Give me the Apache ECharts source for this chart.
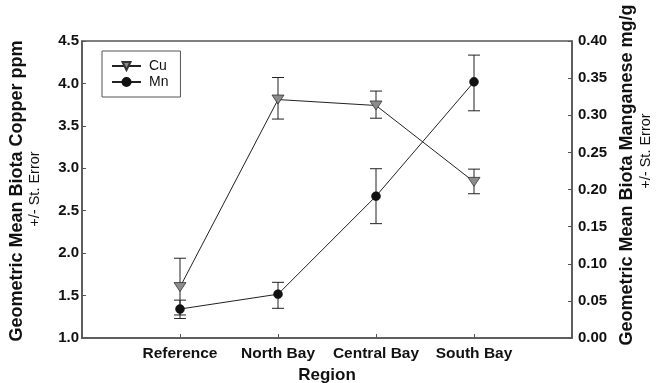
<!DOCTYPE html>
<html>
<head>
<meta charset="utf-8">
<script src="https://cdn.jsdelivr.net/npm/echarts@6/dist/echarts.min.js"></script>
<style>
  html, body { margin: 0; padding: 0; background: #fff; }
  #chart { width: 657px; height: 383px; }
</style>
</head>
<body>
<div id="chart"></div>
<script>
// Sampling regions along the bay
const regions = ['Reference', 'North Bay', 'Central Bay', 'South Bay'];

// Copper (ppm): geometric mean with upper / lower standard-error bounds
const cuMean  = [1.60, 3.81, 3.74, 2.84];
const cuUpper = [1.94, 4.07, 3.91, 2.99];
const cuLower = [1.23, 3.58, 3.59, 2.70];

// Manganese (mg/g): geometric mean with upper / lower standard-error bounds
const mnMean  = [0.039, 0.059, 0.191, 0.345];
const mnUpper = [0.051, 0.075, 0.228, 0.381];
const mnLower = [0.031, 0.040, 0.154, 0.306];

const FONT = 'Liberation Sans, Arial, Helvetica, sans-serif';
const AXIS_COLOR = '#555';

function points(values) {
  return values.map((v, i) => [i + 1, v]);
}

function errorBars(lower, upper) {
  return lower.map((lo, i) => [i + 1, lo, upper[i]]);
}

function renderErrorBar(params, api) {
  const x = api.value(0);
  const pLo = api.coord([x, api.value(1)]);
  const pHi = api.coord([x, api.value(2)]);
  const half = 6;
  const style = { stroke: '#222', lineWidth: 1 };
  return {
    type: 'group',
    children: [
      { type: 'line', shape: { x1: pLo[0], y1: pLo[1], x2: pHi[0], y2: pHi[1] }, style },
      { type: 'line', shape: { x1: pLo[0] - half, y1: pLo[1], x2: pLo[0] + half, y2: pLo[1] }, style },
      { type: 'line', shape: { x1: pHi[0] - half, y1: pHi[1], x2: pHi[0] + half, y2: pHi[1] }, style }
    ]
  };
}

const chart = echarts.init(document.getElementById('chart'), null, { renderer: 'canvas' });

const downTriangle = 'path://M0,0 L12,0 L6,9 Z';

chart.setOption({
  animation: false,
  backgroundColor: '#fff',
  grid: {
    left: 82, right: 85, top: 41, bottom: 45,
    outerBoundsMode: 'none',
    containLabel: false,
    show: true, borderColor: AXIS_COLOR, borderWidth: 1.5, backgroundColor: 'transparent'
  },
  legend: {
    orient: 'vertical',
    left: 102, top: 51,
    padding: [7, 12, 7, 9],
    itemGap: 0,
    itemWidth: 29,
    itemHeight: 10,
    borderColor: AXIS_COLOR,
    borderWidth: 1,
    textStyle: { fontFamily: FONT, fontSize: 14, color: '#111', padding: [0, 0, 0, 3], lineHeight: 16 },
    data: ['Cu', 'Mn']
  },
  xAxis: {
    type: 'value',
    min: 0, max: 5, interval: 1,
    name: 'Region',
    nameLocation: 'middle',
    nameGap: 29,
    nameTextStyle: { fontFamily: FONT, fontSize: 17, fontWeight: 'bold', color: '#111' },
    axisLine: { show: true, lineStyle: { color: AXIS_COLOR, width: 1.5 } },
    axisTick: { show: true, inside: true, length: 4, lineStyle: { color: AXIS_COLOR } },
    axisLabel: {
      margin: 8,
      fontFamily: FONT, fontSize: 15.5, fontWeight: 'bold', color: '#111',
      formatter: v => regions[v - 1] || ''
    },
    splitLine: { show: false }
  },
  yAxis: [
    {
      type: 'value',
      position: 'left',
      min: 1.0, max: 4.5, interval: 0.5,
      axisLine: { show: true, lineStyle: { color: AXIS_COLOR, width: 1.5 } },
      axisTick: { show: true, inside: true, length: 4, lineStyle: { color: AXIS_COLOR } },
      axisLabel: {
        margin: 3,
        fontFamily: FONT, fontSize: 15, fontWeight: 'bold', color: '#111',
        formatter: v => v.toFixed(1)
      },
      splitLine: { show: false }
    },
    {
      type: 'value',
      position: 'right',
      min: 0, max: 0.4, interval: 0.05,
      axisLine: { show: true, lineStyle: { color: AXIS_COLOR, width: 1.5 } },
      axisTick: { show: true, inside: true, length: 4, lineStyle: { color: AXIS_COLOR } },
      axisLabel: {
        margin: 6,
        fontFamily: FONT, fontSize: 15, fontWeight: 'bold', color: '#111',
        formatter: v => v.toFixed(2)
      },
      splitLine: { show: false }
    }
  ],
  graphic: [
    {
      type: 'text', x: 17, y: 191, rotation: Math.PI / 2,
      style: { text: 'Geometric Mean Biota Copper ppm', fontFamily: FONT, fontSize: 18, fontWeight: 'bold',
               fill: '#111', textAlign: 'center', textVerticalAlign: 'middle' }
    },
    {
      type: 'text', x: 35, y: 189, rotation: Math.PI / 2,
      style: { text: '+/- St. Error', fontFamily: FONT, fontSize: 14.5,
               fill: '#111', textAlign: 'center', textVerticalAlign: 'middle' }
    },
    {
      type: 'text', x: 627, y: 175, rotation: Math.PI / 2,
      style: { text: 'Geometric Mean Biota Manganese mg/g', fontFamily: FONT, fontSize: 18, fontWeight: 'bold',
               fill: '#111', textAlign: 'center', textVerticalAlign: 'middle' }
    },
    {
      type: 'text', x: 646, y: 151, rotation: Math.PI / 2,
      style: { text: '+/- St. Error', fontFamily: FONT, fontSize: 14.5,
               fill: '#111', textAlign: 'center', textVerticalAlign: 'middle' }
    }
  ],
  series: [
    {
      type: 'custom',
      name: 'Cu error',
      yAxisIndex: 0,
      z: 1,
      renderItem: renderErrorBar,
      encode: { x: 0, y: [1, 2] },
      data: errorBars(cuLower, cuUpper)
    },
    {
      type: 'custom',
      name: 'Mn error',
      yAxisIndex: 1,
      z: 1,
      renderItem: renderErrorBar,
      encode: { x: 0, y: [1, 2] },
      data: errorBars(mnLower, mnUpper)
    },
    {
      type: 'line',
      name: 'Cu',
      yAxisIndex: 0,
      z: 3,
      data: points(cuMean),
      symbol: downTriangle,
      symbolSize: [12, 9],
      showAllSymbol: true,
      lineStyle: { color: '#222', width: 1 },
      itemStyle: { color: '#8c8c8c', borderColor: '#333', borderWidth: 0.8 }
    },
    {
      type: 'line',
      name: 'Mn',
      yAxisIndex: 1,
      z: 3,
      data: points(mnMean),
      symbol: 'circle',
      symbolSize: 9,
      showAllSymbol: true,
      lineStyle: { color: '#222', width: 1 },
      itemStyle: { color: '#111', borderColor: '#111', borderWidth: 0.5 }
    }
  ]
});
</script>
</body>
</html>
